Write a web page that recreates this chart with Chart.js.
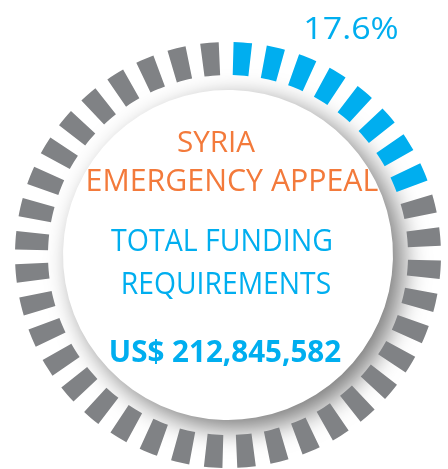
<!DOCTYPE html>
<html>
<head>
<meta charset="utf-8">
<script src="https://cdn.jsdelivr.net/npm/chart.js@4.4.1/dist/chart.umd.min.js"></script>
<style>
  html, body { margin: 0; padding: 0; background: #ffffff; }
  body { width: 448px; height: 469px; overflow: hidden; position: relative; }
  #c { position: absolute; left: 0; top: 0; }
  .t { position: absolute; white-space: nowrap; font-family: "Open Sans", "Noto Sans", sans-serif; }
</style>
</head>
<body>
<canvas id="c" width="448" height="469"></canvas>
<script>
// ---- data ----
const categories = ['Funded', 'Unfunded'];
const fundedPercent = 17.6;               // label "17.6%"
const totalRequirement = 212845582;       // US$
const segmentCount = 40;                  // dashes around the ring
const fundedSegments = 8;                 // blue dashes
const titleLines = ['SYRIA', 'EMERGENCY APPEAL'];
const subtitleLines = ['TOTAL FUNDING', 'REQUIREMENTS'];

// ---- styles ----
const BLUE = '#00AEEF';
const GREY = '#808285';
const ORANGE = '#F37A3B';
const dashSpan = 5, gapSpan = 4;          // degrees per dash / gap

// build dash ring
const ringData = [], ringColors = [], ringLabels = [];
for (let i = 0; i < segmentCount; i++) {
  const funded = i < fundedSegments;
  ringData.push(dashSpan, gapSpan);
  ringColors.push(funded ? BLUE : GREY, 'rgba(0,0,0,0)');
  ringLabels.push(funded ? categories[0] : categories[1], '');
}

const discShadow = {
  id: 'discShadow',
  beforeDatasetDraw(chart, args) {
    if (args.index === 2) {
      const ctx = chart.ctx;
      ctx.save();
      ctx.shadowColor = 'rgba(0,0,0,0.52)';
      ctx.shadowBlur = 26;
      ctx.shadowOffsetX = 10;
      ctx.shadowOffsetY = 9;
    }
  },
  afterDatasetDraw(chart, args) {
    if (args.index === 2) chart.ctx.restore();
  }
};

new Chart(document.getElementById('c'), {
  type: 'doughnut',
  data: {
    labels: ringLabels,
    datasets: [
      { data: ringData, backgroundColor: ringColors, borderWidth: 0, weight: 33 },
      { data: [1], backgroundColor: 'rgba(0,0,0,0)', borderWidth: 0, weight: 15 },
      { data: [1], backgroundColor: '#ffffff', borderWidth: 0, weight: 165 }
    ]
  },
  options: {
    responsive: false,
    animation: false,
    cutout: 0,
    rotation: 1.5,
    layout: { padding: { left: 15, top: 42, right: 7, bottom: 1 } },
    plugins: { legend: { display: false }, tooltip: { enabled: false } },
    events: []
  },
  plugins: [discShadow]
});

// ---- text ----
const mctx = document.createElement('canvas').getContext('2d');
function place(text, cx, capTop, capH, width, color, weight) {
  const fam = '"Open Sans", "Noto Sans", sans-serif';
  mctx.font = `${weight} 100px ${fam}`;
  const ratio = mctx.measureText('H').actualBoundingBoxAscent / 100;
  const size = capH / ratio;
  mctx.font = `${weight} ${size}px ${fam}`;
  const m = mctx.measureText(text);
  const ink = m.actualBoundingBoxLeft + m.actualBoundingBoxRight;
  const fa = m.fontBoundingBoxAscent, fd = m.fontBoundingBoxDescent;
  const baseFromTop = (size - (fa + fd)) / 2 + fa;
  const el = document.createElement('div');
  el.className = 't';
  el.textContent = text;
  el.style.fontSize = size + 'px';
  el.style.lineHeight = size + 'px';
  el.style.fontWeight = weight;
  el.style.color = color;
  el.style.left = cx + 'px';
  el.style.top = (capTop + capH - baseFromTop) + 'px';
  el.style.transformOrigin = '50% 50%';
  el.style.transform = `translateX(-50%) scaleX(${width / ink})`;
  document.body.appendChild(el);
}
place(fundedPercent.toFixed(1) + '%', 351, 18, 22, 92, BLUE, 400);
place(titleLines[0], 216, 132, 21, 78, ORANGE, 400);
place(titleLines[1], 232, 170, 22, 290, ORANGE, 400);
place(subtitleLines[0], 222, 230, 22, 220, BLUE, 400);
place(subtitleLines[1], 226, 273, 22, 208, BLUE, 400);
place('US$ ' + totalRequirement.toLocaleString('en-US'), 225, 340, 22, 230, BLUE, 700);
</script>
</body>
</html>
